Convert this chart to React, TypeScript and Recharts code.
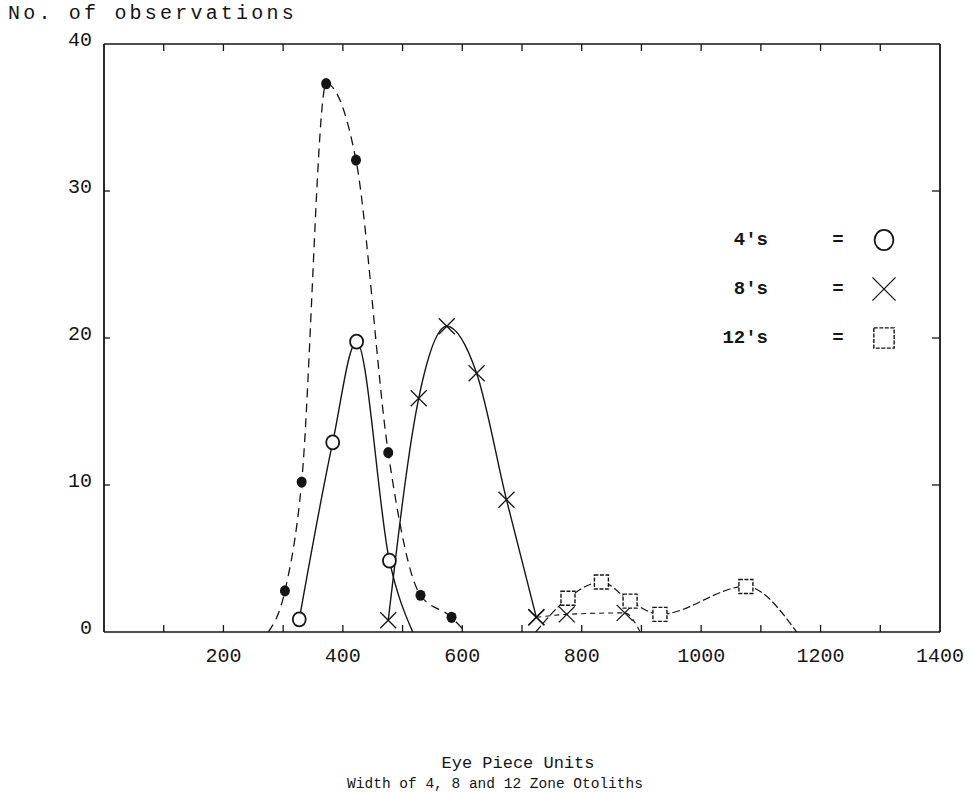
import React from "react";
import { Legend, Line, LineChart, XAxis, YAxis } from "recharts";

const INK = "#151515";
const TYPE = "'Liberation Mono', 'DejaVu Sans Mono', monospace";

const xTicks = [0, 100, 200, 300, 400, 500, 600, 700, 800, 900, 1000, 1100, 1200, 1300, 1400];
const yTicks = [0, 10, 20, 30, 40];

// filled dots, dashed curve (not in the key)
const dotX = [275, 303, 331, 372, 422, 476, 530, 582, 605];
const dotY = [0, 2.8, 10.2, 37.3, 32.1, 12.2, 2.5, 1.0, 0];

// 4's = open circles
const fourX = [327, 383, 423, 478, 517];
const fourY = [0.86, 12.9, 19.75, 4.85, 0];

// 8's = crosses
const eightX = [476, 527, 574, 624, 674, 724, 775, 872, 898];
const eightY = [0.8, 15.9, 20.8, 17.6, 9.0, 1.0, 1.2, 1.3, 0];

// 12's = squares
const twelveX = [723, 777, 833, 881, 931, 1075, 1160];
const twelveY = [0, 2.3, 3.4, 2.1, 1.2, 3.1, 0];

const legendLabels = ["4's", "8's", "12's"];
const legendShapes = ["circle", "cross", "square"];

type Pt = { x: number; y: number };
const toPoints = (xs: number[], ys: number[]): Pt[] => xs.map((x, i) => ({ x, y: ys[i] }));

const dotPts = toPoints(dotX, dotY);
const fourPts = toPoints(fourX, fourY);
const eightPts = toPoints(eightX, eightY);
const eightMain = eightPts.slice(0, 6);
const eightTail = eightPts.slice(5);
const twelvePts = toPoints(twelveX, twelveY);

function Glyph({ cx, cy, shape, size = 1 }: { cx: number; cy: number; shape: string; size?: number }) {
  if (shape === "filled") {
    return <ellipse cx={cx} cy={cy} rx={5 * size} ry={5.6 * size} fill={INK} />;
  }
  if (shape === "circle") {
    return (
      <ellipse cx={cx} cy={cy} rx={6.5 * size} ry={7 * size} fill="#fff" stroke={INK} strokeWidth={1.8} />
    );
  }
  if (shape === "cross") {
    const d = 8 * size;
    return (
      <g stroke={INK} strokeWidth={1.3}>
        <line x1={cx - d} y1={cy - d} x2={cx + d} y2={cy + d} />
        <line x1={cx - d} y1={cy + d} x2={cx + d} y2={cy - d} />
      </g>
    );
  }
  const h = 7 * size;
  return (
    <rect
      x={cx - h}
      y={cy - h}
      width={2 * h}
      height={2 * h}
      fill="#fff"
      stroke={INK}
      strokeWidth={1.4}
      strokeDasharray="4 1.5"
    />
  );
}

// curve ends on the axis carry no marker
const markerFor = (shape: string) => (p: any) => {
  if (p.cx == null || p.cy == null || !(p.payload?.y > 0)) return <g key={p.index} />;
  return <Glyph key={p.index} cx={p.cx} cy={p.cy} shape={shape} />;
};

function BottomTick({ x, y, payload }: any) {
  const v = payload.value;
  if (v === 0 || v === 1400) {
    return (
      <text x={x} y={y + 30} textAnchor="middle" fill={INK} fontFamily={TYPE} fontSize={20}>
        {v === 1400 ? v : ""}
      </text>
    );
  }
  return (
    <g>
      <line x1={x} x2={x} y1={y} y2={y - 7} stroke={INK} strokeWidth={1.3} />
      {v % 200 === 0 && (
        <text x={x} y={y + 30} textAnchor="middle" fill={INK} fontFamily={TYPE} fontSize={20}>
          {v}
        </text>
      )}
    </g>
  );
}

function TopTick({ x, y, payload }: any) {
  const v = payload.value;
  if (v === 0 || v === 1400) return <g />;
  return <line x1={x} x2={x} y1={y} y2={y + 7} stroke={INK} strokeWidth={1.3} />;
}

function LeftTick({ x, y, payload }: any) {
  const v = payload.value;
  return (
    <g>
      {v > 0 && v < 40 && <line x1={x} x2={x + 6} y1={y} y2={y} stroke={INK} strokeWidth={1.3} />}
      <text x={x - 12} y={y + 2} textAnchor="end" fill={INK} fontFamily={TYPE} fontSize={20}>
        {v}
      </text>
    </g>
  );
}

function RightTick({ x, y, payload }: any) {
  const v = payload.value;
  if (v === 0 || v === 40) return <g />;
  return <line x1={x} x2={x - 8} y1={y} y2={y} stroke={INK} strokeWidth={1.3} />;
}

function KeyBox({ payload }: any) {
  const items = (payload || [])
    .filter((it: any) => legendLabels.includes(it.value))
    .sort((a: any, b: any) => legendLabels.indexOf(a.value) - legendLabels.indexOf(b.value));
  return (
    <div style={{ fontFamily: TYPE, fontSize: 19, fontWeight: 700, color: INK }}>
      {items.map((it: any) => {
        const shape = legendShapes[legendLabels.indexOf(it.value)];
        return (
          <div key={it.value} style={{ display: "flex", alignItems: "center", height: 49 }}>
            <span style={{ width: 62, textAlign: "right" }}>{it.value}</span>
            <span style={{ width: 40, marginLeft: 50, textAlign: "center" }}>=</span>
            <svg width={36} height={36} style={{ marginLeft: 8 }}>
              <Glyph cx={18} cy={18} shape={shape} size={1.45} />
            </svg>
          </div>
        );
      })}
    </div>
  );
}

const textStyle: React.CSSProperties = {
  position: "absolute",
  fontFamily: TYPE,
  color: INK,
  whiteSpace: "nowrap",
};

export default function App() {
  return (
    <div style={{ position: "absolute", left: 0, top: 0, width: 972, height: 792, background: "#fff" }}>
      <LineChart width={972} height={792} margin={{ top: 43, right: 31, bottom: 120, left: 44 }}>
        <XAxis
          xAxisId="b"
          dataKey="x"
          type="number"
          domain={[0, 1400]}
          allowDataOverflow
          ticks={xTicks}
          interval={0}
          height={40}
          tickSize={0}
          tickMargin={0}
          tick={<BottomTick />}
          axisLine={{ stroke: INK, strokeWidth: 1.6 }}
        />
        <XAxis
          xAxisId="t"
          orientation="top"
          dataKey="x"
          type="number"
          domain={[0, 1400]}
          allowDataOverflow
          ticks={xTicks}
          interval={0}
          height={1}
          tickSize={0}
          tickMargin={0}
          tick={<TopTick />}
          axisLine={{ stroke: INK, strokeWidth: 1.4 }}
        />
        <YAxis
          yAxisId="l"
          type="number"
          domain={[0, 40]}
          allowDataOverflow
          ticks={yTicks}
          interval={0}
          width={60}
          tickSize={0}
          tickMargin={0}
          tick={<LeftTick />}
          axisLine={{ stroke: INK, strokeWidth: 1.8 }}
        />
        <YAxis
          yAxisId="r"
          orientation="right"
          type="number"
          domain={[0, 40]}
          allowDataOverflow
          ticks={yTicks}
          interval={0}
          width={1}
          tickSize={0}
          tickMargin={0}
          tick={<RightTick />}
          axisLine={{ stroke: INK, strokeWidth: 1.8 }}
        />
        <Legend
          layout="horizontal"
          verticalAlign="middle"
          align="center"
          content={<KeyBox />}
          wrapperStyle={{ position: "absolute", left: 706, top: 215, width: 220 }}
        />
        <Line
          xAxisId="b"
          yAxisId="l"
          data={dotPts}
          dataKey="y"
          name="dots"
          legendType="none"
          type="monotone"
          stroke={INK}
          strokeWidth={1.3}
          strokeDasharray="9 6"
          dot={markerFor("filled")}
          activeDot={false}
          isAnimationActive={false}
        />
        <Line
          xAxisId="b"
          yAxisId="l"
          data={fourPts}
          dataKey="y"
          name={legendLabels[0]}
          type="monotone"
          stroke={INK}
          strokeWidth={1.4}
          dot={markerFor("circle")}
          activeDot={false}
          isAnimationActive={false}
        />
        <Line
          xAxisId="b"
          yAxisId="l"
          data={eightMain}
          dataKey="y"
          name={legendLabels[1]}
          type="monotone"
          stroke={INK}
          strokeWidth={1.4}
          dot={markerFor("cross")}
          activeDot={false}
          isAnimationActive={false}
        />
        <Line
          xAxisId="b"
          yAxisId="l"
          data={eightTail}
          dataKey="y"
          name="8's tail"
          legendType="none"
          type="monotone"
          stroke={INK}
          strokeWidth={1.1}
          strokeDasharray="5 4"
          dot={markerFor("cross")}
          activeDot={false}
          isAnimationActive={false}
        />
        <Line
          xAxisId="b"
          yAxisId="l"
          data={twelvePts}
          dataKey="y"
          name={legendLabels[2]}
          type="monotone"
          stroke={INK}
          strokeWidth={1.2}
          strokeDasharray="8 3"
          dot={markerFor("square")}
          activeDot={false}
          isAnimationActive={false}
        />
      </LineChart>
      <div style={{ ...textStyle, left: 8, top: 2, fontSize: 20, letterSpacing: 3.2 }}>No. of observations</div>
      <div style={{ ...textStyle, left: 518, top: 754, fontSize: 17, transform: "translateX(-50%)" }}>
        Eye Piece Units
      </div>
      <div style={{ ...textStyle, left: 495, top: 776, fontSize: 14.5, transform: "translateX(-50%)" }}>
        Width of 4, 8 and 12 Zone Otoliths
      </div>
    </div>
  );
}
